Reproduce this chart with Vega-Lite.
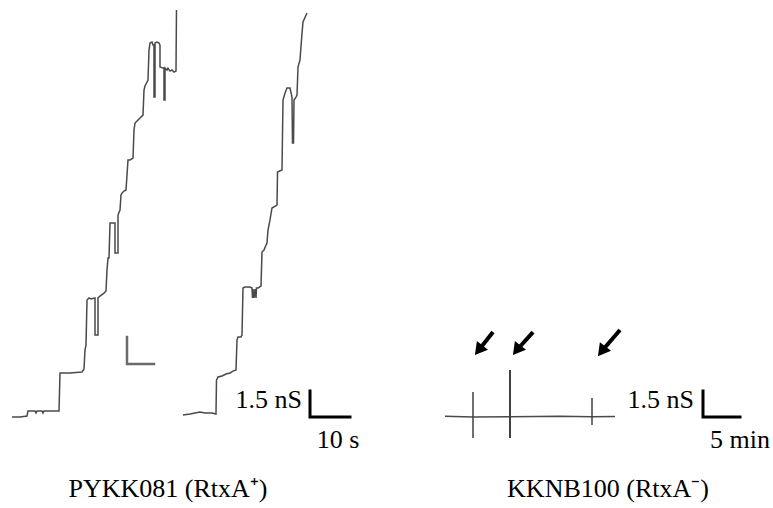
{
  "$schema": "https://vega.github.io/schema/vega-lite/v6.json",
  "width": 773,
  "height": 508,
  "padding": 0,
  "autosize": {"type": "fit", "contains": "padding"},
  "background": "white",
  "config": {"view": {"stroke": null}},
  "datasets": {
    "traces": [
      {"s":"A","i":1,"t":3,"g":0},{"s":"A","i":2,"t":5,"g":0},{"s":"A","i":3,"t":6.75,"g":0.06},{"s":"A","i":4,"t":7,"g":0.35},
      {"s":"A","i":5,"t":8.75,"g":0.35},{"s":"A","i":6,"t":9,"g":0.23},{"s":"A","i":7,"t":9.25,"g":0.35},{"s":"A","i":8,"t":10.5,"g":0.35},
      {"s":"A","i":9,"t":10.75,"g":0.23},{"s":"A","i":10,"t":11,"g":0.35},{"s":"A","i":11,"t":14.75,"g":0.35},{"s":"A","i":12,"t":15,"g":2.54},
      {"s":"A","i":13,"t":17.5,"g":2.54},{"s":"A","i":14,"t":20.5,"g":2.6},{"s":"A","i":15,"t":21,"g":2.77},{"s":"A","i":16,"t":21.25,"g":3.87},
      {"s":"A","i":17,"t":21.5,"g":4.15},{"s":"A","i":18,"t":21.75,"g":6.75},{"s":"A","i":19,"t":22.25,"g":6.87},{"s":"A","i":20,"t":22.75,"g":6.81},
      {"s":"A","i":21,"t":23.75,"g":6.87},{"s":"A","i":22,"t":23.75,"g":4.73},{"s":"A","i":23,"t":24.5,"g":4.73},{"s":"A","i":24,"t":24.5,"g":6.87},
      {"s":"A","i":25,"t":25,"g":6.98},{"s":"A","i":26,"t":26,"g":7.15},{"s":"A","i":27,"t":26.5,"g":7.27},{"s":"A","i":28,"t":26.75,"g":8.48},
      {"s":"A","i":29,"t":27,"g":9.17},{"s":"A","i":30,"t":27.25,"g":9.17},{"s":"A","i":31,"t":27.5,"g":11.19},{"s":"A","i":32,"t":28.75,"g":11.19},
      {"s":"A","i":33,"t":28.75,"g":9.46},{"s":"A","i":34,"t":29.5,"g":9.46},{"s":"A","i":35,"t":29.5,"g":11.65},{"s":"A","i":36,"t":30,"g":11.94},
      {"s":"A","i":37,"t":30.25,"g":12.81},{"s":"A","i":38,"t":30.5,"g":12.92},{"s":"A","i":39,"t":31,"g":13.04},{"s":"A","i":40,"t":31.5,"g":13.1},
      {"s":"A","i":41,"t":31.75,"g":13.96},{"s":"A","i":42,"t":32,"g":14.83},{"s":"A","i":43,"t":32.5,"g":14.83},{"s":"A","i":44,"t":33.25,"g":14.94},
      {"s":"A","i":45,"t":33.5,"g":16.56},{"s":"A","i":46,"t":33.75,"g":16.96},{"s":"A","i":47,"t":35,"g":17.25},{"s":"A","i":48,"t":35.75,"g":17.42},
      {"s":"A","i":49,"t":36,"g":18.86},{"s":"A","i":50,"t":36.25,"g":19.1},{"s":"A","i":51,"t":37,"g":19.44},{"s":"A","i":52,"t":37.25,"g":21.17},
      {"s":"A","i":53,"t":37.5,"g":21.58},{"s":"A","i":54,"t":38,"g":21.63},{"s":"A","i":55,"t":38.25,"g":21.46},{"s":"A","i":56,"t":38.5,"g":21.46},
      {"s":"A","i":57,"t":38.5,"g":18.46},{"s":"A","i":58,"t":38.75,"g":18.46},{"s":"A","i":59,"t":38.75,"g":21.58},{"s":"A","i":60,"t":39.25,"g":21.63},
      {"s":"A","i":61,"t":39.75,"g":21.58},{"s":"A","i":62,"t":40,"g":21.46},{"s":"A","i":63,"t":40,"g":20.19},{"s":"A","i":64,"t":40.75,"g":20.13},
      {"s":"A","i":65,"t":41,"g":20.13},{"s":"A","i":66,"t":41,"g":18.29},{"s":"A","i":67,"t":41.25,"g":18.29},{"s":"A","i":68,"t":41.25,"g":20.13},
      {"s":"A","i":69,"t":41.75,"g":20.02},{"s":"A","i":70,"t":42,"g":20.13},{"s":"A","i":71,"t":42.5,"g":19.96},{"s":"A","i":72,"t":43,"g":20.02},
      {"s":"A","i":73,"t":43.5,"g":19.9},{"s":"A","i":74,"t":44,"g":19.96},{"s":"A","i":75,"t":44.12,"g":23.48},

      {"s":"B","i":1,"t":45.75,"g":0.12},{"s":"B","i":2,"t":47.5,"g":0.17},{"s":"B","i":3,"t":48.75,"g":0.23},{"s":"B","i":4,"t":50,"g":0.29},
      {"s":"B","i":5,"t":51.25,"g":0.23},{"s":"B","i":6,"t":53,"g":0.23},{"s":"B","i":7,"t":54,"g":0.17},{"s":"B","i":8,"t":54.12,"g":2.13},
      {"s":"B","i":9,"t":54.5,"g":2.31},{"s":"B","i":10,"t":55.5,"g":2.37},{"s":"B","i":11,"t":56.5,"g":2.48},{"s":"B","i":12,"t":57.5,"g":2.54},
      {"s":"B","i":13,"t":58.25,"g":2.65},{"s":"B","i":14,"t":59,"g":2.71},{"s":"B","i":15,"t":59.25,"g":4.44},{"s":"B","i":16,"t":59.5,"g":4.62},
      {"s":"B","i":17,"t":60.25,"g":4.62},{"s":"B","i":18,"t":60.5,"g":4.73},{"s":"B","i":19,"t":60.75,"g":7.44},{"s":"B","i":20,"t":61.25,"g":7.5},
      {"s":"B","i":21,"t":62.5,"g":7.5},{"s":"B","i":22,"t":63,"g":7.44},{"s":"B","i":23,"t":63.12,"g":6.87},{"s":"B","i":24,"t":63.25,"g":7.38},
      {"s":"B","i":25,"t":63.5,"g":6.87},{"s":"B","i":26,"t":63.75,"g":7.38},{"s":"B","i":27,"t":64,"g":6.87},{"s":"B","i":28,"t":64.12,"g":7.44},
      {"s":"B","i":29,"t":64.5,"g":7.44},{"s":"B","i":30,"t":65.25,"g":7.56},{"s":"B","i":31,"t":65.5,"g":9.52},{"s":"B","i":32,"t":66,"g":9.63},
      {"s":"B","i":33,"t":66.5,"g":9.92},{"s":"B","i":34,"t":66.75,"g":10.04},{"s":"B","i":35,"t":67,"g":10.79},{"s":"B","i":36,"t":67.5,"g":11.37},
      {"s":"B","i":37,"t":68,"g":12.06},{"s":"B","i":38,"t":69.25,"g":12.23},{"s":"B","i":39,"t":69.38,"g":14.13},{"s":"B","i":40,"t":70.5,"g":14.25},
      {"s":"B","i":41,"t":70.75,"g":18.29},{"s":"B","i":42,"t":71.25,"g":18.69},{"s":"B","i":43,"t":71.75,"g":18.98},{"s":"B","i":44,"t":72.5,"g":18.98},
      {"s":"B","i":45,"t":73,"g":18.46},{"s":"B","i":46,"t":73.12,"g":15.81},{"s":"B","i":47,"t":73.38,"g":15.81},{"s":"B","i":48,"t":73.5,"g":18.29},
      {"s":"B","i":49,"t":74,"g":18.46},{"s":"B","i":50,"t":74.25,"g":18.58},{"s":"B","i":51,"t":74.5,"g":20.19},{"s":"B","i":52,"t":75,"g":20.6},
      {"s":"B","i":53,"t":75.5,"g":22.15},{"s":"B","i":54,"t":75.75,"g":22.79},{"s":"B","i":55,"t":76.75,"g":23.31},

      {"s":"R","i":1,"t":111.25,"g":0.04},{"s":"R","i":2,"t":118.25,"g":0},{"s":"R","i":3,"t":127.5,"g":0.02},{"s":"R","i":4,"t":140,"g":0.05},
      {"s":"R","i":5,"t":148,"g":0.02},{"s":"R","i":6,"t":153.75,"g":0.03}
    ],
    "bars": [
      {"s":"L","k":"marker","i":1,"t":31.75,"g":4.62},{"s":"L","k":"marker","i":2,"t":31.75,"g":3.06},{"s":"L","k":"marker","i":3,"t":38.5,"g":3.06},
      {"s":"SB1","k":"scale","i":1,"t":77.5,"g":1.5},{"s":"SB1","k":"scale","i":2,"t":77.5,"g":0},{"s":"SB1","k":"scale","i":3,"t":87.5,"g":0},
      {"s":"SB2","k":"scale","i":1,"t":175.75,"g":1.5},{"s":"SB2","k":"scale","i":2,"t":175.75,"g":0},{"s":"SB2","k":"scale","i":3,"t":185,"g":0}
    ],
    "spikes": [
      {"e":"minor","t":118.25,"g":1.44,"g2":-1.21},
      {"e":"major","t":127.5,"g":2.71,"g2":-1.21},
      {"e":"minor","t":148,"g":1.1,"g2":-0.46}
    ],
    "arrows": [
      {"t":123.25,"g":4.9,"t2":119.67,"g2":3.85},
      {"t":133.25,"g":4.9,"t2":129.17,"g2":3.85},
      {"t":155,"g":5.02,"t2":150.42,"g2":3.79}
    ],
    "labels": [
      {"txt":"1.5 nS","t":75.5,"g":0.5,"a":"right"},
      {"txt":"10 s","t":84.5,"g":-1.8,"a":"center"},
      {"txt":"1.5 nS","t":173.5,"g":0.5,"a":"right"},
      {"txt":"5 min","t":185,"g":-1.8,"a":"center"},
      {"txt":"PYKK081 (RtxA⁺)","t":42,"g":-4.62,"a":"center"},
      {"txt":"KKNB100 (RtxA⁻)","t":152,"g":-4.62,"a":"center"}
    ]
  },
  "encoding": {
    "x": {"field":"t","type":"quantitative","scale":{"domain":[0,193.25],"nice":false,"zero":false},"axis":null},
    "y": {"field":"g","type":"quantitative","scale":{"domain":[-5.25,24.06],"nice":false,"zero":false},"axis":null}
  },
  "layer": [
    {
      "data": {"name":"traces"},
      "mark": {"type":"line","color":"#4a4a4a","strokeWidth":1.5,"strokeJoin":"miter","interpolate":"linear"},
      "encoding": {"detail":{"field":"s"},"order":{"field":"i","type":"quantitative"}}
    },
    {
      "data": {"name":"spikes"},
      "mark": {"type":"rule","color":"#404040"},
      "encoding": {
        "y2":{"field":"g2"},
        "strokeWidth":{"field":"e","type":"nominal","scale":{"domain":["minor","major"],"range":[1.5,3]},"legend":null}
      }
    },
    {
      "data": {"name":"bars"},
      "mark": {"type":"line","strokeJoin":"miter","strokeCap":"square"},
      "encoding": {
        "detail":{"field":"s"},
        "order":{"field":"i","type":"quantitative"},
        "color":{"field":"k","type":"nominal","scale":{"domain":["marker","scale"],"range":["#6a6a6a","#000000"]},"legend":null},
        "strokeWidth":{"field":"k","type":"nominal","scale":{"domain":["marker","scale"],"range":[1.2,2.2]},"legend":null}
      }
    },
    {
      "data": {"name":"arrows"},
      "mark": {"type":"rule","color":"#000000","strokeWidth":4},
      "encoding": {"x2":{"field":"t2"},"y2":{"field":"g2"}}
    },
    {
      "data": {"name":"arrows"},
      "mark": {"type":"point","shape":"triangle-up","filled":true,"color":"#000000","opacity":1,"size":200,"angle":218},
      "encoding": {"x":{"field":"t2","type":"quantitative"},"y":{"field":"g2","type":"quantitative"}}
    },
    {
      "data": {"name":"labels"},
      "transform": [{"filter":"datum.a === 'right'"}],
      "mark": {"type":"text","font":"Liberation Serif","fontSize":26,"color":"#000000","baseline":"alphabetic","align":"right"},
      "encoding": {"text":{"field":"txt"}}
    },
    {
      "data": {"name":"labels"},
      "transform": [{"filter":"datum.a === 'center'"}],
      "mark": {"type":"text","font":"Liberation Serif","fontSize":26,"color":"#000000","baseline":"alphabetic","align":"center"},
      "encoding": {"text":{"field":"txt"}}
    }
  ]
}
